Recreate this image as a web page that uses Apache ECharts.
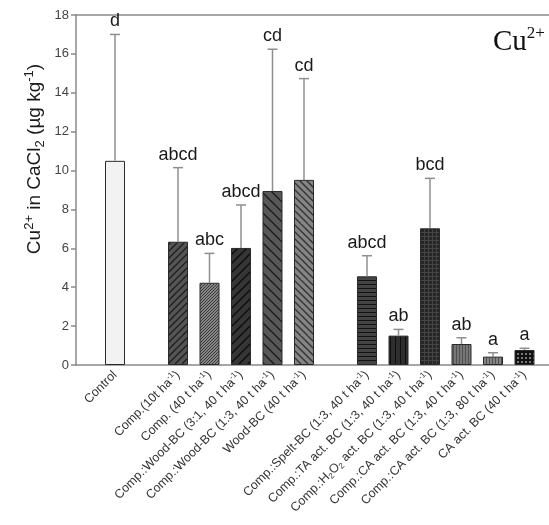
<!DOCTYPE html>
<html>
<head>
<meta charset="utf-8">
<script src="https://cdn.jsdelivr.net/npm/echarts@6/dist/echarts.min.js"></script>
<style>html,body{margin:0;padding:0;background:#fff;}#c{width:549px;height:525px;}</style>
</head>
<body>
<div id="c"></div>
<script>
// ---- data ----
var categories = ['Control', '', 'Comp10', 'Comp40', 'CW31', 'CW13', 'Wood', '', 'Spelt', 'TA', 'H2O2', 'CA40', 'CA80', 'CAact'];
var labelTexts = [
  'Control', '',
  'Comp.(10t ha{s|-1})',
  'Comp. (40 t ha{s|-1})',
  'Comp.:Wood-BC (3:1, 40 t ha{s|-1})',
  'Comp.:Wood-BC (1:3, 40 t ha{s|-1})',
  'Wood-BC (40 t ha{s|-1})', '',
  'Comp.:Spelt-BC (1:3, 40 t ha{s|-1})',
  'Comp.:TA act. BC (1:3, 40 t ha{s|-1})',
  'Comp.:H{b|2}O{b|2} act. BC (1:3, 40 t ha{s|-1})',
  'Comp.:CA act. BC (1:3, 40 t ha{s|-1})',
  'Comp.:CA act. BC (1:3, 80 t ha{s|-1})',
  'CA act. BC (40 t ha{s|-1})'
];
var means  = [10.5, null, 6.34, 4.23, 6.02, 8.95, 9.52, null, 4.56, 1.51, 7.03, 1.08, 0.43, 0.77];
var upper  = [17.0, null, 10.15, 5.74, 8.23, 16.24, 14.73, null, 5.62, 1.83, 9.6, 1.40, 0.63, 0.86];
var letters = ['d', '', 'abcd', 'abc', 'abcd', 'cd', 'cd', '', 'abcd', 'ab', 'bcd', 'ab', 'a', 'a'];
var yTicks = [0, 2, 4, 6, 8, 10, 12, 14, 16, 18];

// ---- fill patterns ----
function pat(bg, fg, type, sp, lw) {
  var s = type === 'dots' || type === 'grid' ? sp : sp * 4;
  var c = document.createElement('canvas');
  c.width = s; c.height = s;
  var g = c.getContext('2d');
  g.fillStyle = bg; g.fillRect(0, 0, s, s);
  g.strokeStyle = fg; g.fillStyle = fg; g.lineWidth = lw;
  if (type === 'fwd' || type === 'back') {
    for (var k = -s; k <= 2 * s; k += sp) {
      g.beginPath();
      if (type === 'fwd') { g.moveTo(k - s, s); g.lineTo(k + s, -s); }
      else { g.moveTo(k - s, -s); g.lineTo(k + s, s); }
      g.stroke();
    }
  } else if (type === 'h') {
    for (var y = 0; y < s; y += sp) { g.fillRect(0, y, s, lw); }
  } else if (type === 'v') {
    for (var x = 0; x < s; x += sp) { g.fillRect(x, 0, lw, s); }
  } else if (type === 'dots') {
    g.fillRect(1, 1, lw, lw);
  } else if (type === 'grid') {
    g.fillRect(0, 0, s, lw); g.fillRect(0, 0, lw, s);
  }
  return { image: c, repeat: 'repeat' };
}
var fills = [
  '#f2f2f2', null,
  pat('#555555', '#1e1e1e', 'fwd', 7, 1.3),
  pat('#858585', '#3a3a3a', 'fwd', 3, 1),
  pat('#363636', '#0e0e0e', 'fwd', 9, 1.5),
  pat('#585858', '#1e1e1e', 'back', 10, 1.5),
  pat('#858585', '#333', 'back', 7, 1.3),
  null,
  pat('#444444', '#121212', 'h', 4, 1),
  pat('#2e2e2e', '#0e0e0e', 'v', 5, 1),
  pat('#262626', '#454545', 'grid', 4, 1),
  pat('#777777', '#505050', 'v', 3, 1),
  pat('#858585', '#505050', 'v', 3, 1),
  pat('#111111', '#777', 'dots', 4, 2)
];

var barData = means.map(function (v, i) {
  if (v === null) return null;
  return { value: v, itemStyle: { color: fills[i] } };
});
var errData = means.map(function (v, i) { return [i, v === null ? 0 : v, upper[i] === null ? 0 : upper[i], i]; });

var FONT = 'Liberation Sans, Arial, sans-serif';
var frameLine = { show: true, lineStyle: { color: '#8a8a8a', width: 1.5 } };

var chart = echarts.init(document.getElementById('c'), null, { renderer: 'canvas' });
chart.setOption({
  animation: false,
  backgroundColor: '#fff',
  grid: [
    { left: 99.25, right: 8.75, top: 15, bottom: 160 },
    { left: 76, right: 0, top: 15, bottom: 160 }
  ],
  xAxis: [
    {
      type: 'category', gridIndex: 0, data: categories,
      axisLine: { show: false }, axisTick: { show: false },
      axisLabel: {
        interval: 0, rotate: 45, margin: 8, color: '#333', fontSize: 12.5, fontFamily: FONT,
        formatter: function (v, i) { return labelTexts[i]; },
        rich: {
          s: { fontSize: 8, verticalAlign: 'top', lineHeight: 15, color: '#333', fontFamily: FONT },
          b: { fontSize: 8, verticalAlign: 'bottom', lineHeight: 15, color: '#333', fontFamily: FONT }
        }
      }
    },
    { type: 'value', gridIndex: 1, position: 'bottom', min: 0, max: 1,
      axisLine: frameLine, axisTick: { show: false }, axisLabel: { show: false }, splitLine: { show: false } },
    { type: 'value', gridIndex: 1, position: 'top', min: 0, max: 1,
      axisLine: frameLine, axisTick: { show: false }, axisLabel: { show: false }, splitLine: { show: false } }
  ],
  yAxis: [
    {
      type: 'value', gridIndex: 0, min: 0, max: 18, interval: 2, offset: 23.25,
      axisLine: frameLine,
      axisTick: { show: true, length: 5, lineStyle: { color: '#8a8a8a', width: 1.5 } },
      axisLabel: { color: '#444', fontSize: 13, margin: 7, fontFamily: FONT,
        formatter: function (v) { return yTicks.indexOf(v) >= 0 ? String(v) : ''; } },
      splitLine: { show: false }
    },
    { type: 'value', gridIndex: 1, show: false, min: 0, max: 1 }
  ],
  series: [
    {
      type: 'bar', xAxisIndex: 0, yAxisIndex: 0, data: barData, barWidth: 20,
      itemStyle: { borderColor: '#2a2a2a', borderWidth: 1 }, z: 3
    },
    {
      type: 'custom', xAxisIndex: 0, yAxisIndex: 0, data: errData, z: 4,
      renderItem: function (params, api) {
        var i = api.value(3);
        if (means[i] === null) return null;
        var p0 = api.coord([api.value(0), api.value(1)]);
        var p1 = api.coord([api.value(0), api.value(2)]);
        var st = { stroke: '#8f8f8f', lineWidth: 1.5 };
        return {
          type: 'group',
          children: [
            { type: 'line', shape: { x1: p0[0], y1: p0[1], x2: p1[0], y2: p1[1] }, style: st },
            { type: 'line', shape: { x1: p1[0] - 5, y1: p1[1], x2: p1[0] + 5, y2: p1[1] }, style: st },
            { type: 'text', x: p1[0], y: p1[1] - 4,
              style: { text: letters[i], align: 'center', verticalAlign: 'bottom', fontSize: 18, fill: '#1a1a1a', fontFamily: FONT } }
          ]
        };
      }
    }
  ],
  graphic: [
    {
      type: 'text', x: 35, y: 159, rotation: Math.PI / 2,
      style: {
        text: 'Cu{sup|2+} in CaCl{sub|2} (µg kg{sup|-1})',
        align: 'center', verticalAlign: 'middle',
        fontSize: 19, fill: '#1a1a1a', fontFamily: FONT,
        rich: {
          sup: { fontSize: 13, verticalAlign: 'top', lineHeight: 24, fill: '#1a1a1a', fontFamily: FONT },
          sub: { fontSize: 13, verticalAlign: 'bottom', lineHeight: 24, fill: '#1a1a1a', fontFamily: FONT }
        }
      }
    },
    {
      type: 'text', x: 493, y: 59,
      style: {
        text: 'Cu{sup|2+}', align: 'left', verticalAlign: 'bottom',
        fontSize: 29, fill: '#111', fontFamily: 'Liberation Serif, DejaVu Serif, serif',
        rich: { sup: { fontSize: 17, verticalAlign: 'top', lineHeight: 34, fill: '#111', fontFamily: 'Liberation Serif, DejaVu Serif, serif' } }
      }
    }
  ]
});
</script>
</body>
</html>
